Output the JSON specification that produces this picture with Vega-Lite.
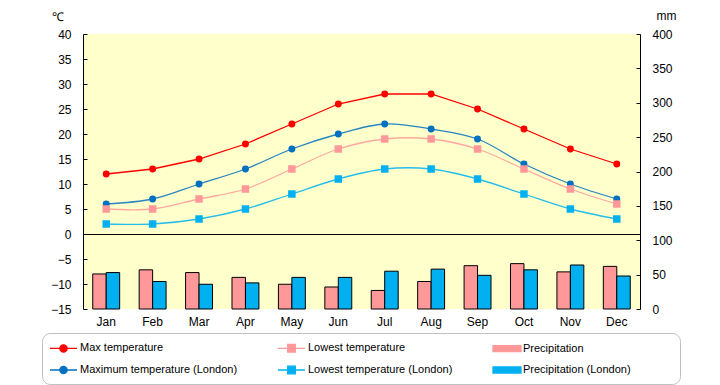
{
  "$schema": "https://vega.github.io/schema/vega-lite/v6.json",
  "width": 557,
  "height": 275,
  "autosize": "none",
  "padding": {"left": 83, "top": 34, "right": 80, "bottom": 76},
  "background": "white",
  "config": {
    "font": "Liberation Sans",
    "view": {"fill": "#FFFFCC", "stroke": null},
    "axis": {"labelFont": "Liberation Sans", "labelFontSize": 12, "labelColor": "black", "domainColor": "black", "tickColor": "black", "grid": false, "titleFont": "Liberation Sans", "titleFontWeight": "normal", "titleColor": "black"}
  },
  "datasets": {
    "temps": [
      {"month": "Jan", "series": "Max temperature", "temp": 12},
      {"month": "Feb", "series": "Max temperature", "temp": 13},
      {"month": "Mar", "series": "Max temperature", "temp": 15},
      {"month": "Apr", "series": "Max temperature", "temp": 18},
      {"month": "May", "series": "Max temperature", "temp": 22},
      {"month": "Jun", "series": "Max temperature", "temp": 26},
      {"month": "Jul", "series": "Max temperature", "temp": 28},
      {"month": "Aug", "series": "Max temperature", "temp": 28},
      {"month": "Sep", "series": "Max temperature", "temp": 25},
      {"month": "Oct", "series": "Max temperature", "temp": 21},
      {"month": "Nov", "series": "Max temperature", "temp": 17},
      {"month": "Dec", "series": "Max temperature", "temp": 14},
      {"month": "Jan", "series": "Lowest temperature", "temp": 5},
      {"month": "Feb", "series": "Lowest temperature", "temp": 5},
      {"month": "Mar", "series": "Lowest temperature", "temp": 7},
      {"month": "Apr", "series": "Lowest temperature", "temp": 9},
      {"month": "May", "series": "Lowest temperature", "temp": 13},
      {"month": "Jun", "series": "Lowest temperature", "temp": 17},
      {"month": "Jul", "series": "Lowest temperature", "temp": 19},
      {"month": "Aug", "series": "Lowest temperature", "temp": 19},
      {"month": "Sep", "series": "Lowest temperature", "temp": 17},
      {"month": "Oct", "series": "Lowest temperature", "temp": 13},
      {"month": "Nov", "series": "Lowest temperature", "temp": 9},
      {"month": "Dec", "series": "Lowest temperature", "temp": 6},
      {"month": "Jan", "series": "Maximum temperature (London)", "temp": 6},
      {"month": "Feb", "series": "Maximum temperature (London)", "temp": 7},
      {"month": "Mar", "series": "Maximum temperature (London)", "temp": 10},
      {"month": "Apr", "series": "Maximum temperature (London)", "temp": 13},
      {"month": "May", "series": "Maximum temperature (London)", "temp": 17},
      {"month": "Jun", "series": "Maximum temperature (London)", "temp": 20},
      {"month": "Jul", "series": "Maximum temperature (London)", "temp": 22},
      {"month": "Aug", "series": "Maximum temperature (London)", "temp": 21},
      {"month": "Sep", "series": "Maximum temperature (London)", "temp": 19},
      {"month": "Oct", "series": "Maximum temperature (London)", "temp": 14},
      {"month": "Nov", "series": "Maximum temperature (London)", "temp": 10},
      {"month": "Dec", "series": "Maximum temperature (London)", "temp": 7},
      {"month": "Jan", "series": "Lowest temperature (London)", "temp": 2},
      {"month": "Feb", "series": "Lowest temperature (London)", "temp": 2},
      {"month": "Mar", "series": "Lowest temperature (London)", "temp": 3},
      {"month": "Apr", "series": "Lowest temperature (London)", "temp": 5},
      {"month": "May", "series": "Lowest temperature (London)", "temp": 8},
      {"month": "Jun", "series": "Lowest temperature (London)", "temp": 11},
      {"month": "Jul", "series": "Lowest temperature (London)", "temp": 13},
      {"month": "Aug", "series": "Lowest temperature (London)", "temp": 13},
      {"month": "Sep", "series": "Lowest temperature (London)", "temp": 11},
      {"month": "Oct", "series": "Lowest temperature (London)", "temp": 8},
      {"month": "Nov", "series": "Lowest temperature (London)", "temp": 5},
      {"month": "Dec", "series": "Lowest temperature (London)", "temp": 3}
    ],
    "precip": [
      {"month": "Jan", "series": "Precipitation", "mm": 51},
      {"month": "Feb", "series": "Precipitation", "mm": 57},
      {"month": "Mar", "series": "Precipitation", "mm": 53},
      {"month": "Apr", "series": "Precipitation", "mm": 46},
      {"month": "May", "series": "Precipitation", "mm": 36},
      {"month": "Jun", "series": "Precipitation", "mm": 32},
      {"month": "Jul", "series": "Precipitation", "mm": 27},
      {"month": "Aug", "series": "Precipitation", "mm": 40},
      {"month": "Sep", "series": "Precipitation", "mm": 63},
      {"month": "Oct", "series": "Precipitation", "mm": 66},
      {"month": "Nov", "series": "Precipitation", "mm": 54},
      {"month": "Dec", "series": "Precipitation", "mm": 62},
      {"month": "Jan", "series": "Precipitation (London)", "mm": 53},
      {"month": "Feb", "series": "Precipitation (London)", "mm": 40},
      {"month": "Mar", "series": "Precipitation (London)", "mm": 36},
      {"month": "Apr", "series": "Precipitation (London)", "mm": 38},
      {"month": "May", "series": "Precipitation (London)", "mm": 46},
      {"month": "Jun", "series": "Precipitation (London)", "mm": 46},
      {"month": "Jul", "series": "Precipitation (London)", "mm": 55},
      {"month": "Aug", "series": "Precipitation (London)", "mm": 58},
      {"month": "Sep", "series": "Precipitation (London)", "mm": 49},
      {"month": "Oct", "series": "Precipitation (London)", "mm": 57},
      {"month": "Nov", "series": "Precipitation (London)", "mm": 64},
      {"month": "Dec", "series": "Precipitation (London)", "mm": 48}
    ]
  },
  "layer": [
    {
      "data": {"name": "precip"},
      "mark": {"type": "bar", "stroke": "black", "strokeWidth": 1},
      "encoding": {
        "x": {"field": "month", "type": "nominal", "sort": ["Jan","Feb","Mar","Apr","May","Jun","Jul","Aug","Sep","Oct","Nov","Dec"], "scale": {"paddingInner": 0.42, "paddingOuter": 0.21}, "axis": {"title": null, "ticks": false, "domain": false, "labelAngle": 0, "labelPadding": 7}},
        "xOffset": {"field": "series", "type": "nominal", "sort": ["Precipitation", "Precipitation (London)"], "scale": {"paddingInner": 0, "paddingOuter": 0}},
        "y": {"field": "mm", "type": "quantitative", "scale": {"domain": [0, 400], "nice": false}, "axis": {"orient": "right", "values": [0,50,100,150,200,250,300,350,400], "labelOverlap": false, "tickSize": -4, "labelPadding": 16, "title": "mm", "titleAngle": 0, "titleX": 26, "titleY": -15, "titleAlign": "center", "titleBaseline": "alphabetic", "titleFontSize": 12}},
        "color": {
          "field": "series", "type": "nominal",
          "scale": {"domain": ["Max temperature","Maximum temperature (London)","Lowest temperature","Lowest temperature (London)","Precipitation","Precipitation (London)"], "range": ["#FF0000","#0070C0","#FF9999","#00B0F0","#FF9999","#00B0F0"]},
          "legend": {
            "orient": "none", "legendX": -41, "legendY": 299,
            "title": " ", "titleOrient": "right", "titlePadding": 42,
            "columns": 3, "columnPadding": 37, "rowPadding": 7,
            "padding": 7, "symbolSize": 196, "labelOffset": 15, "labelLimit": 300,
            "symbolStrokeWidth": 1.3, "symbolOpacity": 1,
            "strokeColor": "#C0C0C0", "cornerRadius": 8,
            "labelFont": "Liberation Sans", "labelFontSize": 11, "labelColor": "black"
          }
        }
      }
    },
    {
      "layer": [
        {
          "data": {"name": "temps"},
          "transform": [{"filter": {"field": "series", "equal": "Max temperature"}}],
          "mark": {"type": "line", "strokeWidth": 1.3, "interpolate": "linear"},
          "encoding": {
            "x": {"field": "month", "type": "nominal", "sort": ["Jan","Feb","Mar","Apr","May","Jun","Jul","Aug","Sep","Oct","Nov","Dec"]},
            "y": {"field": "temp", "type": "quantitative", "scale": {"domain": [-15, 40], "nice": false, "zero": false}, "axis": {"orient": "left", "tickCount": 11, "tickMinStep": 5, "labelOverlap": false, "tickSize": -4, "labelPadding": 16, "grid": true, "gridColor": {"condition": {"test": "datum.value === 0", "value": "black"}, "value": null}, "gridOpacity": 1, "title": "℃", "titleAngle": 0, "titleX": -26, "titleY": -14, "titleAlign": "center", "titleBaseline": "alphabetic", "titleFontSize": 12}},
            "color": {"field": "series", "type": "nominal"}
          }
        },
        {
          "data": {"name": "temps"},
          "transform": [{"filter": {"not": {"field": "series", "equal": "Max temperature"}}}],
          "mark": {"type": "line", "strokeWidth": 1.3, "interpolate": "catmull-rom", "strokeOpacity": 0.85},
          "encoding": {
            "x": {"field": "month", "type": "nominal", "sort": ["Jan","Feb","Mar","Apr","May","Jun","Jul","Aug","Sep","Oct","Nov","Dec"]},
            "y": {"field": "temp", "type": "quantitative", "scale": {"domain": [-15, 40], "nice": false, "zero": false}},
            "color": {"field": "series", "type": "nominal"}
          }
        },
        {
          "data": {"name": "temps"},
          "mark": {"type": "point", "filled": true, "opacity": 0},
          "encoding": {
            "x": {"field": "month", "type": "nominal", "sort": ["Jan","Feb","Mar","Apr","May","Jun","Jul","Aug","Sep","Oct","Nov","Dec"]},
            "y": {"field": "temp", "type": "quantitative", "scale": {"domain": [-15, 40], "nice": false, "zero": false}},
            "color": {"field": "series", "type": "nominal"},
            "shape": {"field": "series", "type": "nominal", "scale": {"domain": ["Max temperature","Maximum temperature (London)","Lowest temperature","Lowest temperature (London)","Precipitation","Precipitation (London)"], "range": ["M-1,0L2.857,0M1.443,0A0.514,0.514,0,1,1,0.415,0A0.514,0.514,0,1,1,1.443,0Z", "M-1,0L2.857,0M1.443,0A0.514,0.514,0,1,1,0.415,0A0.514,0.514,0,1,1,1.443,0Z", "M-1,0L2.857,0M0.386,-0.543L1.472,-0.543L1.472,0.543L0.386,0.543Z", "M-1,0L2.857,0M0.386,-0.543L1.472,-0.543L1.472,0.543L0.386,0.543Z", "M-1,-0.43L3,-0.43L3,0.43L-1,0.43Z", "M-1,-0.43L3,-0.43L3,0.43L-1,0.43Z"]}},
            "stroke": {"field": "series", "type": "nominal", "scale": {"domain": ["Max temperature","Maximum temperature (London)","Lowest temperature","Lowest temperature (London)","Precipitation","Precipitation (London)"], "range": ["#FF0000","#0070C0","#FFA0A0","#20B8F0","#000000","#000000"]}}
          }
        },
        {
          "data": {"name": "temps"},
          "transform": [{"filter": {"field": "series", "oneOf": ["Max temperature", "Maximum temperature (London)"]}}],
          "mark": {"type": "point", "shape": "circle", "filled": true, "opacity": 1, "size": 48},
          "encoding": {
            "x": {"field": "month", "type": "nominal", "sort": ["Jan","Feb","Mar","Apr","May","Jun","Jul","Aug","Sep","Oct","Nov","Dec"]},
            "y": {"field": "temp", "type": "quantitative", "scale": {"domain": [-15, 40], "nice": false, "zero": false}},
            "color": {"field": "series", "type": "nominal"}
          }
        },
        {
          "data": {"name": "temps"},
          "transform": [{"filter": {"field": "series", "oneOf": ["Lowest temperature", "Lowest temperature (London)"]}}],
          "mark": {"type": "point", "shape": "square", "filled": true, "opacity": 1, "size": 56},
          "encoding": {
            "x": {"field": "month", "type": "nominal", "sort": ["Jan","Feb","Mar","Apr","May","Jun","Jul","Aug","Sep","Oct","Nov","Dec"]},
            "y": {"field": "temp", "type": "quantitative", "scale": {"domain": [-15, 40], "nice": false, "zero": false}},
            "color": {"field": "series", "type": "nominal"}
          }
        }
      ]
    }
  ],
  "resolve": {"scale": {"y": "independent"}}
}
